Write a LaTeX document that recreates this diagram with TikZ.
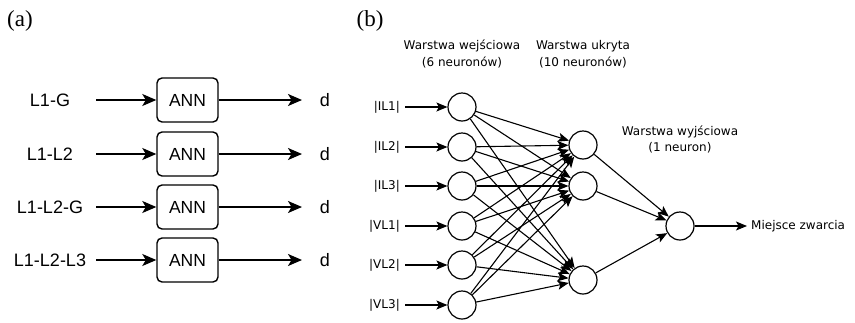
\documentclass[tikz,border=0pt]{standalone}
\usepackage{fontspec}
\setmainfont{Liberation Serif}
\newfontfamily\arialf{Liberation Sans}
\newfontfamily\dejaf{DejaVu Sans}
\usetikzlibrary{arrows.meta}
\begin{document}
\begin{tikzpicture}[x=1pt,y=-1pt,
  title/.style={font=\fontsize{23}{25}\selectfont, inner sep=0},
  labA/.style={font=\arialf\fontsize{18}{20}\selectfont, inner sep=0},
  annbox/.style={draw, rounded corners=5pt, minimum width=61pt, minimum height=44pt, line width=1.4pt, font=\arialf\fontsize{17.5}{20}\selectfont, inner sep=0},
  arA/.style={line width=1.4pt, -{Stealth[length=14pt,width=12pt,inset=3.5pt]}},
  neuron/.style={circle, draw, line width=1.2pt, minimum size=28pt, inner sep=0},
  arB/.style={line width=1.1pt, -{Stealth[length=11pt,width=9pt,inset=2.5pt]}},
  labB/.style={font=\dejaf\fontsize{12}{14}\selectfont, inner sep=0},
]
\useasboundingbox (0,0) rectangle (855,322);

% ---------- (a) ----------
\node[title] (ta) at (20,21) {(a)};
\foreach \i/\y/\t in {1/100/L1-G, 2/154/L1-L2, 3/207/L1-L2-G, 4/260/L1-L2-L3}{
  \node[labA] (inA\i) at (50,\y) {\t};
  \node[annbox] (ann\i) at (187.5,\y) {ANN};
  \node[labA] (d\i) at (325,\y) {d};
  \coordinate (sA\i) at (96,\y);
  \coordinate (eA\i) at (302,\y);
  \draw[arA] (sA\i) -- (ann\i);
  \draw[arA] (ann\i) -- (eA\i);
}

% ---------- (b) ----------
\node[title] (tb) at (370,21) {(b)};

\node[labB] (t1a) at (462,46) {Warstwa wejściowa};
\node[labB] (t1b) at (462,62) {(6 neuronów)};
\node[labB] (t2a) at (583,46) {Warstwa ukryta};
\node[labB] (t2b) at (583,62) {(10 neuronów)};
\node[labB] (t3a) at (680,132) {Warstwa wyjściowa};
\node[labB] (t3b) at (680,148) {(1 neuron)};

\foreach \i/\y/\t in {1/107/{|IL1|}, 2/147/{|IL2|}, 3/186/{|IL3|}, 4/226/{|VL1|}, 5/265/{|VL2|}, 6/305/{|VL3|}}{
  \node[neuron] (in\i) at (462,\y) {};
  \node[labB, anchor=east] (lb\i) at (400,\y) {\t};
  \coordinate (sB\i) at (405,\y);
  \draw[arB] (sB\i) -- (in\i);
}

\node[neuron] (h1) at (583,145) {};
\node[neuron] (h2) at (583,186) {};
\node[neuron] (h3) at (583,280) {};
\node[neuron] (out) at (680,226) {};

\foreach \i in {1,...,6}{
  \foreach \j in {1,2,3}{
    \draw[arB] (in\i) -- (h\j);
  }
}
\foreach \j in {1,2,3}{
  \draw[arB] (h\j) -- (out);
}
\coordinate (eo) at (747,226);
\draw[arB] (out) -- (eo);
\node[labB, anchor=west] (mz) at (751,226) {Miejsce zwarcia};
\end{tikzpicture}
\end{document}
